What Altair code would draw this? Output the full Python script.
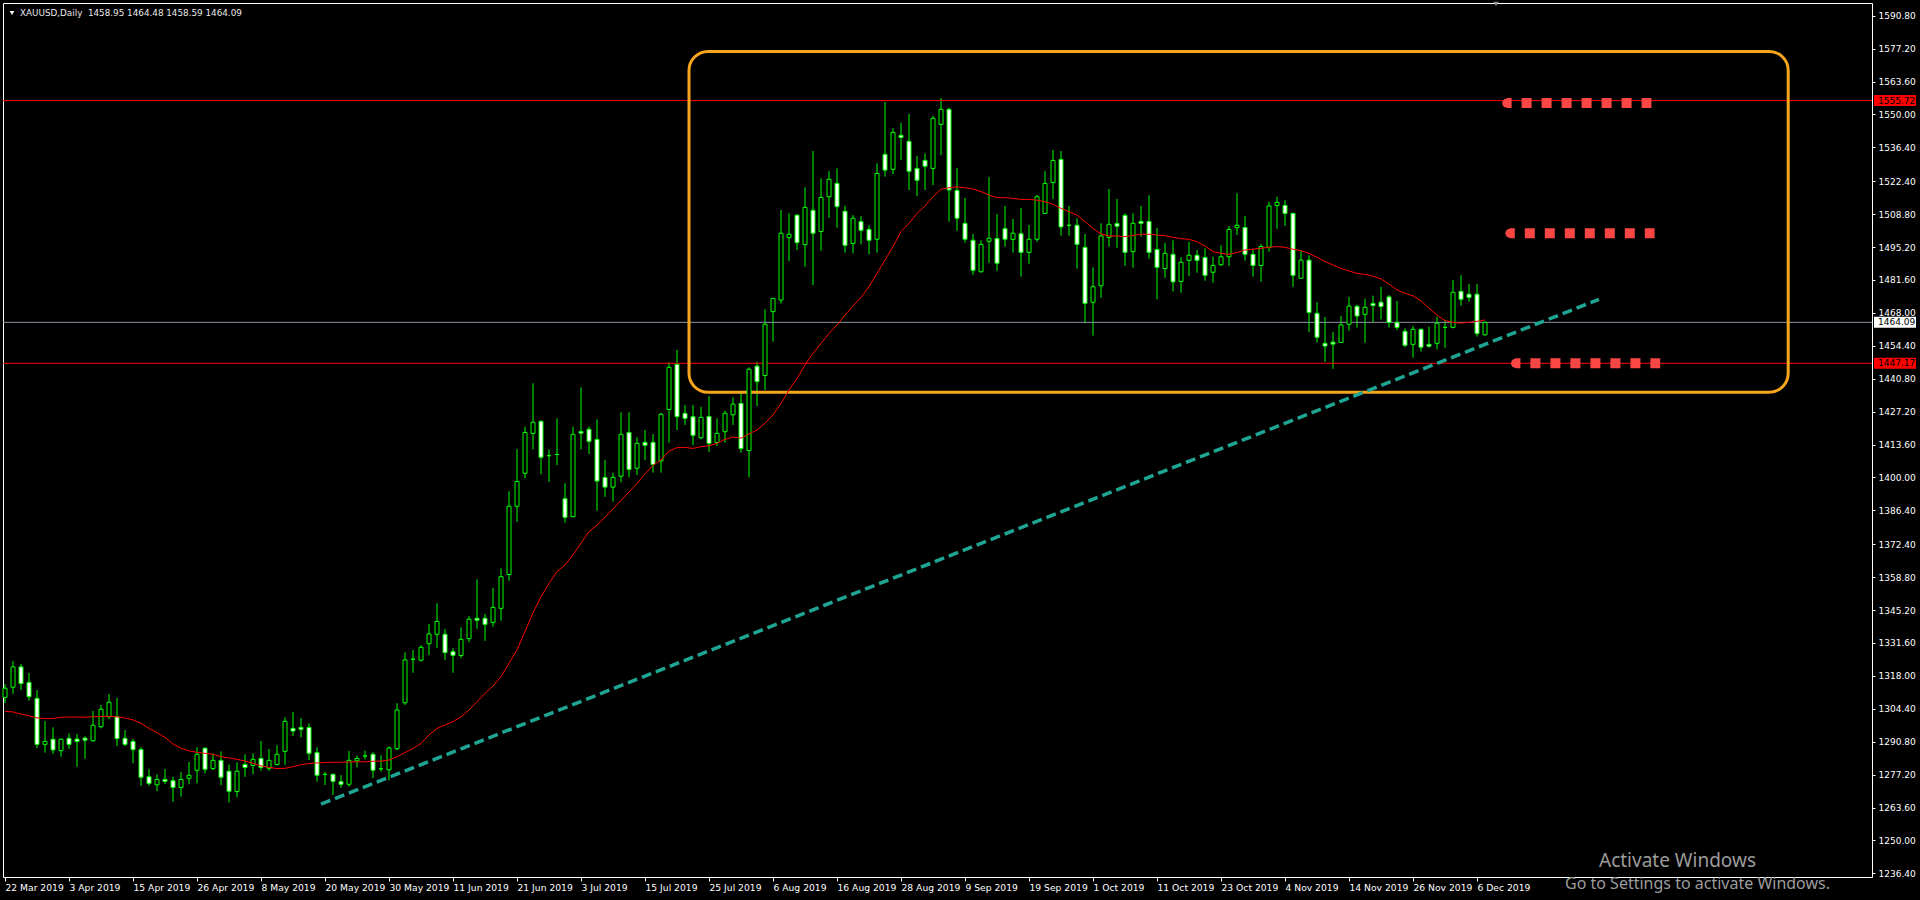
import altair as alt
import pandas as pd

# ---- XAUUSD daily bars (22 Mar 2019 .. 9 Dec 2019) ----
opens = [
    1309.1, 1313.3, 1321.7, 1315.3, 1308.7, 1289.7, 1291.8, 1287.1, 1292.2, 1291.9,
    1292.3, 1291.2, 1297.0, 1301.1, 1301.1, 1292.2, 1290.9, 1287.6, 1276.3, 1273.0,
    1275.2, 1274.7, 1271.9, 1275.7, 1279.0, 1288.1, 1279.7, 1283.1, 1278.6, 1270.2,
    1281.4, 1281.0, 1283.9, 1279.8, 1281.4, 1286.8, 1296.3, 1296.7, 1296.7, 1286.3,
    1277.3, 1277.3, 1274.3, 1273.2, 1282.9, 1284.9, 1285.6, 1279.6, 1279.2, 1287.9,
    1306.9, 1324.9, 1324.5, 1331.3, 1335.2, 1335.2, 1328.0, 1326.4, 1333.4, 1341.8,
    1341.8, 1340.1, 1345.9, 1359.9, 1388.1, 1401.7, 1418.2, 1423.2, 1409.0, 1409.5,
    1391.2, 1383.8, 1419.0, 1419.9, 1415.7, 1400.0, 1396.0, 1400.5, 1418.6, 1403.8,
    1414.5, 1414.5, 1406.8, 1428.1, 1446.7, 1426.5, 1425.1, 1416.4, 1425.2, 1414.4,
    1418.9, 1425.9, 1430.6, 1411.1, 1446.0, 1442.1, 1468.5, 1473.3, 1499.2, 1508.4,
    1496.2, 1510.4, 1501.6, 1516.0, 1521.5, 1510.0, 1496.7, 1505.7, 1502.5, 1498.4,
    1533.5, 1527.3, 1541.4, 1538.9, 1527.7, 1531.0, 1527.7, 1545.9, 1552.1, 1518.6,
    1505.0, 1498.0, 1485.0, 1497.6, 1498.7, 1502.8, 1498.4, 1500.7, 1493.0, 1498.4,
    1509.1, 1521.9, 1531.4, 1504.2, 1504.2, 1495.1, 1472.4, 1479.2, 1499.2, 1504.9,
    1508.3, 1493.3, 1505.8, 1505.8, 1494.2, 1486.3, 1492.2, 1481.0, 1489.7, 1491.8,
    1490.9, 1484.8, 1487.9, 1491.2, 1503.2, 1503.3, 1492.2, 1487.6, 1495.1, 1512.4,
    1512.4, 1509.1, 1482.3, 1489.8, 1467.8, 1455.4, 1455.9, 1455.8, 1463.3, 1470.7,
    1467.4, 1471.9, 1472.4, 1474.6, 1464.1, 1460.4, 1455.0, 1461.2, 1455.0, 1455.4,
    1462.0, 1462.0, 1476.9, 1475.7, 1475.7, 1458.95,
]
highs = [
    1314.6, 1324.1, 1322.9, 1319.2, 1312.1, 1299.3, 1296.7, 1292.1, 1294.2, 1294.0,
    1293.0, 1303.5, 1306.0, 1310.5, 1308.9, 1295.6, 1291.9, 1288.5, 1279.4, 1277.3,
    1279.5, 1276.3, 1278.3, 1282.4, 1288.5, 1288.5, 1286.0, 1286.8, 1281.4, 1282.3,
    1285.6, 1286.0, 1291.1, 1287.8, 1289.3, 1300.9, 1303.1, 1300.5, 1298.4, 1288.5,
    1278.4, 1277.7, 1277.0, 1287.0, 1285.0, 1287.1, 1286.4, 1285.2, 1288.9, 1306.7,
    1327.7, 1328.7, 1330.7, 1339.4, 1348.0, 1337.4, 1329.4, 1338.0, 1342.7, 1357.9,
    1343.6, 1354.4, 1362.4, 1394.3, 1411.7, 1421.0, 1438.9, 1423.5, 1411.6, 1424.4,
    1397.6, 1421.0, 1437.2, 1421.0, 1424.0, 1407.2, 1402.0, 1426.9, 1426.9, 1416.6,
    1419.6, 1417.9, 1426.8, 1447.6, 1452.7, 1429.9, 1429.9, 1429.2, 1433.6, 1424.4,
    1427.6, 1433.1, 1434.8, 1445.5, 1447.8, 1469.5, 1474.0, 1510.5, 1509.1, 1508.7,
    1519.9, 1534.9, 1523.6, 1526.6, 1527.7, 1512.3, 1508.4, 1508.0, 1504.2, 1529.8,
    1555.1, 1544.3, 1546.6, 1550.2, 1532.8, 1533.9, 1549.4, 1556.8, 1552.7, 1527.9,
    1515.5, 1500.6, 1498.0, 1524.1, 1508.8, 1512.2, 1506.8, 1511.3, 1504.3, 1516.7,
    1526.6, 1535.3, 1534.9, 1512.2, 1507.1, 1500.6, 1486.8, 1505.0, 1519.2, 1515.1,
    1509.1, 1509.1, 1512.2, 1516.6, 1503.1, 1496.9, 1498.0, 1491.1, 1497.3, 1494.0,
    1494.7, 1491.2, 1495.9, 1503.9, 1517.4, 1508.0, 1494.0, 1496.5, 1513.9, 1516.0,
    1514.6, 1509.4, 1493.7, 1491.8, 1472.4, 1466.3, 1460.1, 1466.8, 1474.6, 1471.4,
    1473.9, 1475.1, 1478.8, 1475.4, 1472.9, 1461.6, 1462.6, 1461.6, 1462.3, 1466.4,
    1465.1, 1481.6, 1483.6, 1479.9, 1479.9, 1464.48,
]
lows = [
    1306.7, 1310.6, 1312.2, 1307.8, 1288.1, 1286.3, 1285.8, 1284.6, 1287.9, 1280.5,
    1283.8, 1290.8, 1296.3, 1300.2, 1289.0, 1289.0, 1281.9, 1272.6, 1272.6, 1270.4,
    1273.3, 1266.0, 1268.1, 1273.2, 1273.6, 1277.7, 1279.1, 1272.8, 1265.7, 1267.8,
    1276.3, 1277.4, 1278.8, 1278.8, 1281.0, 1281.3, 1293.2, 1292.6, 1283.2, 1274.3,
    1272.9, 1268.8, 1271.8, 1272.2, 1280.2, 1283.5, 1275.7, 1278.4, 1274.9, 1287.3,
    1306.0, 1319.3, 1323.9, 1326.6, 1329.6, 1324.6, 1319.3, 1325.3, 1331.9, 1337.4,
    1332.5, 1338.3, 1340.8, 1357.3, 1381.7, 1399.6, 1411.6, 1401.3, 1398.2, 1405.1,
    1381.3, 1383.5, 1411.6, 1409.7, 1386.3, 1392.0, 1390.0, 1398.0, 1400.0, 1401.0,
    1407.2, 1402.0, 1402.0, 1414.4, 1419.6, 1421.7, 1413.4, 1415.7, 1410.6, 1413.0,
    1414.4, 1421.7, 1410.2, 1400.0, 1429.5, 1436.1, 1456.1, 1471.9, 1489.4, 1494.0,
    1487.1, 1479.5, 1493.7, 1507.3, 1503.2, 1492.9, 1492.6, 1496.3, 1492.2, 1492.9,
    1524.3, 1525.2, 1531.2, 1518.8, 1516.3, 1518.8, 1520.8, 1533.2, 1505.7, 1502.0,
    1497.0, 1483.7, 1484.6, 1488.7, 1485.4, 1495.4, 1492.9, 1483.0, 1488.3, 1497.4,
    1509.1, 1515.1, 1499.9, 1499.9, 1486.3, 1463.7, 1458.6, 1474.3, 1495.4, 1494.9,
    1487.5, 1486.7, 1499.5, 1490.4, 1473.6, 1482.5, 1476.8, 1476.3, 1483.2, 1484.6,
    1481.3, 1480.5, 1487.4, 1487.4, 1500.2, 1489.6, 1483.0, 1480.9, 1493.3, 1502.7,
    1504.0, 1478.8, 1482.3, 1460.1, 1455.7, 1447.8, 1444.9, 1455.8, 1460.6, 1461.9,
    1455.7, 1464.2, 1465.3, 1461.9, 1460.9, 1453.8, 1449.5, 1452.0, 1453.6, 1452.9,
    1453.6, 1461.6, 1471.0, 1472.6, 1458.2, 1458.59,
]
closes = [
    1312.9, 1321.7, 1314.8, 1309.4, 1289.7, 1290.9, 1287.4, 1291.8, 1289.7, 1290.9,
    1291.4, 1297.6, 1304.2, 1307.1, 1292.1, 1289.7, 1287.5, 1276.1, 1273.5, 1275.2,
    1274.4, 1271.9, 1275.2, 1276.9, 1285.6, 1279.4, 1283.1, 1276.1, 1270.3, 1278.6,
    1280.1, 1283.5, 1280.2, 1283.1, 1285.6, 1299.2, 1295.2, 1295.9, 1286.0, 1276.9,
    1277.3, 1274.4, 1273.2, 1283.1, 1283.9, 1284.9, 1279.0, 1279.6, 1288.2, 1303.9,
    1324.6, 1324.9, 1329.8, 1335.3, 1340.5, 1327.6, 1326.5, 1333.1, 1341.4, 1341.0,
    1339.3, 1346.3, 1359.0, 1388.1, 1398.3, 1418.6, 1422.8, 1408.3, 1409.0, 1409.5,
    1383.5, 1417.8, 1418.3, 1414.9, 1398.5, 1396.0, 1400.0, 1417.8, 1403.3, 1414.1,
    1413.3, 1405.4, 1426.1, 1445.5, 1425.1, 1424.4, 1417.4, 1424.8, 1414.1, 1418.2,
    1426.5, 1430.3, 1411.9, 1444.7, 1439.6, 1463.3, 1474.0, 1500.9, 1500.5, 1497.0,
    1511.6, 1500.9, 1515.7, 1523.2, 1511.9, 1495.9, 1507.1, 1502.1, 1498.0, 1525.6,
    1527.0, 1542.6, 1540.5, 1526.5, 1522.8, 1528.6, 1548.4, 1552.1, 1518.8, 1507.1,
    1498.4, 1485.6, 1496.3, 1498.8, 1488.5, 1498.4, 1500.9, 1493.0, 1498.4, 1516.0,
    1521.5, 1531.0, 1503.5, 1504.2, 1496.3, 1471.9, 1478.8, 1499.8, 1504.6, 1503.8,
    1493.0, 1505.0, 1505.0, 1493.0, 1486.8, 1492.6, 1480.8, 1488.9, 1491.8, 1489.7,
    1483.5, 1487.6, 1491.2, 1502.5, 1504.2, 1492.2, 1487.6, 1495.4, 1512.2, 1513.7,
    1509.1, 1483.5, 1489.8, 1468.2, 1457.9, 1454.3, 1455.1, 1463.0, 1470.8, 1466.7,
    1470.3, 1471.0, 1470.6, 1464.0, 1462.0, 1454.6, 1461.2, 1453.8, 1454.2, 1463.7,
    1462.0, 1476.5, 1473.6, 1474.4, 1459.4, 1464.09,
]
# moving average drawn in red
ma_line = [
    1303.3, 1303.1, 1302.2, 1301.5, 1300.6, 1300.4, 1300.4, 1300.9, 1301.0, 1301.0,
    1300.9, 1301.1, 1301.2, 1301.3, 1301.1, 1300.6, 1299.8, 1298.4, 1296.3, 1294.5,
    1292.6, 1289.8, 1288.1, 1287.0, 1286.4, 1286.0, 1285.6, 1284.6, 1284.1, 1283.5,
    1282.8, 1281.9, 1280.8, 1280.2, 1279.7, 1279.8, 1280.5, 1281.3, 1281.8, 1282.0,
    1282.2, 1282.3, 1282.3, 1282.4, 1282.5, 1282.5, 1282.7, 1282.8, 1283.2, 1284.6,
    1286.3, 1288.0, 1290.1, 1293.6, 1296.3, 1297.7, 1299.1, 1301.1, 1303.9, 1307.3,
    1310.8, 1313.8, 1317.7, 1323.2, 1328.7, 1336.3, 1344.1, 1350.7, 1356.2, 1361.1,
    1363.8, 1368.0, 1372.8, 1377.6, 1380.3, 1383.5, 1387.0, 1390.5, 1394.0, 1397.5,
    1401.5, 1405.0, 1407.2, 1410.9, 1412.3, 1412.4, 1412.0, 1412.7, 1413.1, 1414.1,
    1415.7, 1416.7, 1416.2, 1418.0, 1419.6, 1422.4, 1425.8, 1430.6, 1436.1, 1440.9,
    1446.5, 1451.3, 1455.4, 1459.5, 1463.0, 1467.1, 1470.8, 1474.4, 1478.8, 1484.3,
    1489.8, 1495.4, 1501.6, 1505.0, 1509.1, 1512.2, 1516.0, 1519.1, 1519.7, 1520.1,
    1519.7, 1519.2, 1518.1, 1516.7, 1515.6, 1515.6, 1515.3, 1514.9, 1514.9, 1514.6,
    1513.9, 1512.8, 1511.2, 1509.8, 1508.4, 1505.7, 1502.9, 1500.6, 1499.8, 1499.8,
    1499.5, 1500.0, 1500.5, 1500.5, 1500.2, 1499.9, 1499.2, 1498.7, 1498.4, 1497.4,
    1495.6, 1493.3, 1492.6, 1492.2, 1492.9, 1494.0, 1494.3, 1494.7, 1495.1, 1495.4,
    1495.1, 1494.3, 1493.7, 1492.6, 1491.0, 1489.2, 1487.8, 1486.4, 1485.3, 1484.3,
    1483.9, 1483.2, 1482.0, 1479.9, 1477.5, 1476.1, 1475.0, 1473.0, 1469.9, 1467.1,
    1464.8, 1464.1, 1463.8, 1464.1, 1464.5, 1465.1,
]

# date labels, one every 8 bars
date_labels = [
    "22 Mar 2019", "3 Apr 2019", "15 Apr 2019", "26 Apr 2019", "8 May 2019",
    "20 May 2019", "30 May 2019", "11 Jun 2019", "21 Jun 2019", "3 Jul 2019",
    "15 Jul 2019", "25 Jul 2019", "6 Aug 2019", "16 Aug 2019", "28 Aug 2019",
    "9 Sep 2019", "19 Sep 2019", "1 Oct 2019", "11 Oct 2019", "23 Oct 2019",
    "4 Nov 2019", "14 Nov 2019", "26 Nov 2019", "6 Dec 2019",
]
date_step = 8
price_ticks = [
    1590.8, 1577.2, 1563.6, 1550.0, 1536.4, 1522.4, 1508.8, 1495.2, 1481.6,
    1468.0, 1454.4, 1440.8, 1427.2, 1413.6, 1400.0, 1386.4, 1372.4, 1358.8,
    1345.2, 1331.6, 1318.0, 1304.4, 1290.8, 1277.2, 1263.6, 1250.0, 1236.4,
]

# drawing objects (bar index / price)
levels_red = [1555.72, 1447.17]
bid_price = 1464.09
trend_bars = [39.5, 199.25]
trend_prices = [1265.0, 1473.6]
box_bars = [85.5, 222.9]
box_prices = [1435.2, 1576.05]
dot_rows_start = [187.7, 188.1, 188.8]
dot_rows_end = [205.8, 206.2, 206.9]
dot_rows_price = [1554.7, 1500.9, 1447.17]

header = "XAUUSD,Daily\u00a0\u00a01458.95 1464.48 1458.59 1464.09"

FONT = "DejaVu Sans"
W, H = 1869, 874
xs = alt.Scale(domain=[-0.25, 233.375], nice=False, zero=False)
ys = alt.Scale(domain=[1234.89, 1596.05], nice=False, zero=False)

bars = pd.DataFrame({
    "bar": list(range(len(opens))),
    "open": opens, "high": highs, "low": lows, "close": closes, "ma": ma_line,
})

label_list = "[" + ",".join("'" + s + "'" for s in date_labels) + "]"
x_axis = alt.Axis(
    values=[i * date_step for i in range(len(date_labels))],
    labelExpr=f"{label_list}[round(datum.value / {date_step})]",
    orient="bottom", title=None, grid=False, domain=False,
    tickColor="white", tickSize=4, labelColor="white", labelFont=FONT,
    labelFontSize=9.2, labelAlign="left", labelBaseline="top", labelPadding=2,
    labelOffset=0, labelOverlap=False, labelFlush=False,
)
y_axis = alt.Axis(
    values=price_ticks, format=".2f", orient="right", title=None, grid=False,
    domain=False, tickColor="white", tickSize=3, labelColor="white",
    labelFont=FONT, labelFontSize=9, labelPadding=3, labelOverlap=False,
    labelFlush=False,
)


def X(field):
    return alt.X(field, scale=xs, axis=x_axis)


def Y(field):
    return alt.Y(field, scale=ys, axis=y_axis)


base = alt.Chart(bars)

wicks = base.mark_rule(color="#00ff00", strokeWidth=1).encode(
    x=X("bar:Q"), y=Y("low:Q"), y2="high:Q",
)

bodies = base.transform_calculate(
    x0="datum.bar - 0.25", x1="datum.bar + 0.25",
    up="datum.close >= datum.open",
).mark_rect(stroke="#00ff00", strokeWidth=1).encode(
    x=X("x0:Q"), x2="x1:Q", y=Y("open:Q"), y2="close:Q",
    fill=alt.condition("datum.up", alt.value("black"), alt.value("white")),
)

ma = base.mark_line(color="#ff0000", strokeWidth=1).encode(
    x=X("bar:Q"), y=Y("ma:Q"),
)

red_levels = alt.Chart(pd.DataFrame({"p": levels_red})).mark_rule(
    color="#ff0000", strokeWidth=1
).encode(y=Y("p:Q"))

bid_line = alt.Chart(pd.DataFrame({"p": [bid_price]})).mark_rule(
    color="#8a96a3", strokeWidth=1
).encode(y=Y("p:Q"))

trend = alt.Chart(pd.DataFrame({"bar": trend_bars, "p": trend_prices})).mark_line(
    color="#1fa593", strokeWidth=3.5, strokeDash=[10, 5]
).encode(x=X("bar:Q"), y=Y("p:Q"))

box = alt.Chart(pd.DataFrame({
    "b0": [box_bars[0]], "b1": [box_bars[1]],
    "p0": [box_prices[0]], "p1": [box_prices[1]],
})).mark_rect(
    fill="black", fillOpacity=0, stroke="#f7a61c", strokeWidth=3, cornerRadius=19
).encode(x=X("b0:Q"), x2="b1:Q", y=Y("p0:Q"), y2="p1:Q")

dots_df = pd.DataFrame({
    "s": dot_rows_start, "e": dot_rows_end, "p": dot_rows_price,
})
dot_color = "#fb4646"
dot_rules = alt.Chart(dots_df).mark_rule(
    color=dot_color, strokeWidth=10, strokeDash=[10, 10], strokeDashOffset=5,
    strokeCap="butt",
).encode(x=X("s:Q"), x2="e:Q", y=Y("p:Q"))
dot_heads = alt.Chart(dots_df).mark_point(
    shape="circle", filled=True, color=dot_color, size=78, opacity=1
).encode(x=X("s:Q"), y=Y("p:Q"))

# price tags on the axis
tags = pd.DataFrame({
    "p": [levels_red[0], bid_price, levels_red[1]],
    "txt": [f"{levels_red[0]:.2f}", f"{bid_price:.2f}", f"{levels_red[1]:.2f}"],
    "bg": ["#ff0000", "#ffffff", "#ff0000"],
})
tag_boxes = alt.Chart(tags).mark_rect(height=11).encode(
    x=alt.value(W + 2), x2=alt.value(W + 44), y=Y("p:Q"),
    fill=alt.Fill("bg:N", scale=None),
)
tag_text = alt.Chart(tags).mark_text(
    align="left", baseline="middle", font=FONT, fontSize=9, color="black"
).encode(x=alt.value(W + 6), y=Y("p:Q"), text="txt:N")

title_mark = alt.Chart(pd.DataFrame({"t": [header]})).mark_text(
    align="left", baseline="middle", font=FONT, fontSize=8.8, color="#e8e8e8"
).encode(x=alt.value(17), y=alt.value(10), text="t:N")
title_arrow = alt.Chart(pd.DataFrame({"t": [0]})).mark_point(
    shape="triangle-down", filled=True, color="white", size=22, opacity=1
).encode(x=alt.value(9), y=alt.value(10))
shift_arrow = alt.Chart(pd.DataFrame({"t": [0]})).mark_point(
    shape="triangle-down", filled=True, color="#8c8c8c", size=30, opacity=1
).encode(x=alt.value(1493), y=alt.value(1))

wm_big = alt.Chart(pd.DataFrame({"t": ["Activate Windows"]})).mark_text(
    align="left", baseline="middle", font="Noto Sans", fontSize=19, color="#9c9c9c"
).encode(x=alt.value(1596), y=alt.value(858), text="t:N")
wm_small = alt.Chart(pd.DataFrame({"t": ["Go to Settings to activate Windows."]})).mark_text(
    align="left", baseline="middle", font="Noto Sans", fontSize=16, color="#9c9c9c"
).encode(x=alt.value(1562), y=alt.value(881), text="t:N")

chart = alt.layer(
    wicks, red_levels, bid_line, box, trend, bodies, ma,
    dot_rules, dot_heads, tag_boxes, tag_text,
    title_mark, title_arrow, shift_arrow, wm_big, wm_small,
).properties(
    width=W, height=H, background="black",
    autosize=alt.AutoSizeParams(type="none"),
    padding={"left": 3, "top": 3, "right": 48, "bottom": 23},
).configure_view(stroke="white", strokeWidth=1)

chart.save("out.html", embed_options={"renderer": "svg", "actions": False})
